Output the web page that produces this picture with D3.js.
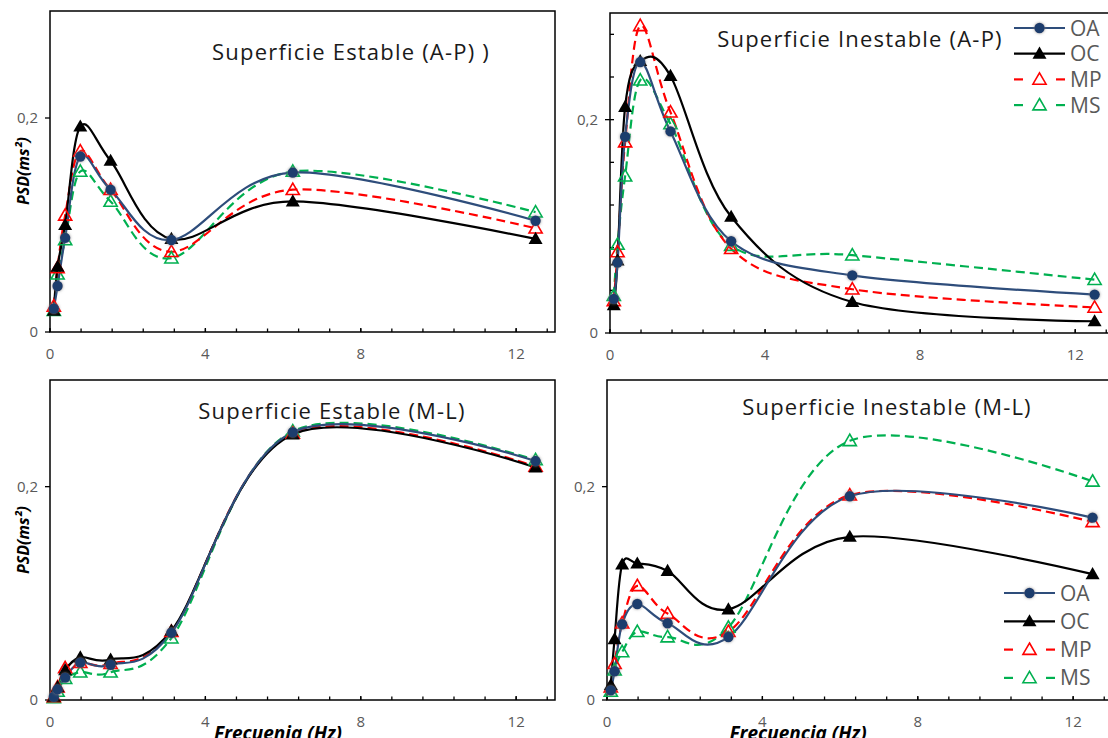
<!DOCTYPE html>
<html>
<head>
<meta charset="utf-8" />
<script src="https://cdn.jsdelivr.net/npm/d3@7"></script>
<style>
  body { margin: 0; background: #fff; }
  svg { display: block; font-family: "Open Sans", "Noto Sans", sans-serif; }
  .tick-label { fill: #595959; font-size: 15px; }
  .title { fill: #1a1a1a; font-size: 22px; letter-spacing: 1.2px; }
  .legend-text { fill: #595959; font-size: 21px; }
  .axis-title { fill: #000; font-size: 16px; font-weight: bold; font-style: italic; }
</style>
</head>
<body>
<svg id="chart" width="1108" height="738"></svg>
<script>
// frequencies (Hz), octave bands
const freq = [0.098, 0.195, 0.39, 0.78, 1.56, 3.125, 6.25, 12.5];
const seriesNames = ["OA", "OC", "MP", "MS"];

// PSD values per panel, rows in seriesNames order
const estableAP = [
  [0.022, 0.043, 0.088, 0.164, 0.133, 0.086, 0.149, 0.104],
  [0.020, 0.061, 0.100, 0.192, 0.160, 0.087, 0.122, 0.087],
  [0.024, 0.060, 0.109, 0.169, 0.133, 0.075, 0.133, 0.097],
  [0.020, 0.054, 0.086, 0.150, 0.122, 0.069, 0.150, 0.112]
];
const inestableAP = [
  [0.032, 0.066, 0.184, 0.254, 0.189, 0.086, 0.054, 0.036],
  [0.026, 0.068, 0.212, 0.255, 0.241, 0.109, 0.029, 0.011],
  [0.030, 0.076, 0.179, 0.288, 0.207, 0.079, 0.041, 0.024],
  [0.035, 0.083, 0.147, 0.237, 0.196, 0.082, 0.073, 0.050]
];
const estableML = [
  [0.003, 0.010, 0.021, 0.035, 0.033, 0.063, 0.251, 0.224],
  [0.003, 0.012, 0.028, 0.040, 0.038, 0.065, 0.249, 0.218],
  [0.003, 0.012, 0.030, 0.035, 0.034, 0.064, 0.250, 0.219],
  [0.002, 0.008, 0.020, 0.026, 0.026, 0.058, 0.252, 0.225]
];
const inestableML = [
  [0.009, 0.027, 0.071, 0.090, 0.072, 0.059, 0.191, 0.171],
  [0.014, 0.057, 0.127, 0.128, 0.121, 0.085, 0.153, 0.118],
  [0.012, 0.034, 0.072, 0.107, 0.081, 0.064, 0.192, 0.167],
  [0.008, 0.028, 0.045, 0.064, 0.059, 0.068, 0.243, 0.205]
];

const titles = ["Superficie Estable (A-P) )", "Superficie Inestable (A-P)",
                "Superficie Estable (M-L)", "Superficie Inestable (M-L)"];
const xTicks = [0, 4, 8, 12];
const yTicks = [0, 0.2];
const yTickLabels = ["0", "0,2"];

const styles = {
  OA: { color: "#2e4d7b", dash: null, marker: "circle", fill: "#1f3d6d" },
  OC: { color: "#000000", dash: null, marker: "triangle", fill: "#000000" },
  MP: { color: "#ff0000", dash: "9,5", marker: "triangle", fill: "#ffffff" },
  MS: { color: "#00b050", dash: "9,5", marker: "triangle", fill: "#ffffff" }
};

const panels = [
  { data: estableAP, title: titles[0], left: 50, top: 11, right: 555, bottom: 332,
    tx: 351, ty: 60, yLabel: 171, yMinor: false },
  { data: inestableAP, title: titles[1], left: 610, top: 13, right: 1114, bottom: 333,
    tx: 860, ty: 47, yMinor: true, legend: { x1: 1014, x2: 1065, y: 28, dy: 25.7 } },
  { data: estableML, title: titles[2], left: 50, top: 380, right: 555, bottom: 700,
    tx: 332, ty: 419, yLabel: 540, xLabel: "Frecuenia (Hz)", xLabelX: 278 },
  { data: inestableML, title: titles[3], left: 607, top: 380, right: 1112, bottom: 700,
    tx: 887, ty: 415, xLabel: "Frecuencia (Hz)", xLabelX: 798,
    legend: { x1: 1004, x2: 1055, y: 593, dy: 28.3 } }
];

const svg = d3.select("#chart");

const defs = svg.append("defs");
const glow = defs.append("filter").attr("id", "glow")
  .attr("x", "-50%").attr("y", "-50%").attr("width", "200%").attr("height", "200%");
glow.append("feGaussianBlur").attr("in", "SourceAlpha").attr("stdDeviation", 1.4).attr("result", "b");
glow.append("feFlood").attr("flood-color", "#808080").attr("flood-opacity", 0.8);
glow.append("feComposite").attr("in2", "b").attr("operator", "in");
const gm = glow.append("feMerge");
gm.append("feMergeNode");
gm.append("feMergeNode").attr("in", "SourceGraphic");

const triSym = d3.symbol().type(d3.symbolTriangle);

function drawMarker(g, name, x, y) {
  const s = styles[name];
  if (s.marker === "circle") {
    g.append("circle").attr("cx", x).attr("cy", y).attr("r", 5.2)
      .attr("fill", s.fill).attr("filter", "url(#glow)");
  } else if (name === "OC") {
    g.append("path").attr("d", triSym.size(85)())
      .attr("transform", `translate(${x},${y + 1})`).attr("fill", s.fill);
  } else {
    g.append("path").attr("d", triSym.size(75)())
      .attr("transform", `translate(${x},${y + 1})`)
      .attr("fill", "none").attr("stroke", s.color).attr("stroke-width", 1.6);
  }
}

panels.forEach(p => {
  const g = svg.append("g");
  const x = d3.scaleLinear().domain([0, 13]).range([p.left, p.right]);
  const y = d3.scaleLinear().domain([0, 0.3]).range([p.bottom, p.top]);

  // plot border
  g.append("rect").attr("x", p.left).attr("y", p.top)
    .attr("width", p.right - p.left).attr("height", p.bottom - p.top)
    .attr("fill", "none").attr("stroke", "#000").attr("stroke-width", 1.5);

  // x axis ticks (inside)
  const xMinor = d3.range(0, 13.01, 0.8);
  g.selectAll(null).data(xMinor).join("line")
    .attr("x1", d => x(d)).attr("x2", d => x(d))
    .attr("y1", p.bottom).attr("y2", p.bottom - 3.5)
    .attr("stroke", "#000").attr("stroke-width", 1.3);
  g.selectAll(null).data(xTicks).join("line")
    .attr("x1", d => x(d)).attr("x2", d => x(d))
    .attr("y1", p.bottom).attr("y2", p.bottom - 4)
    .attr("stroke", "#000").attr("stroke-width", 1.3);
  g.selectAll(null).data(xTicks).join("text").attr("class", "tick-label")
    .attr("x", d => x(d)).attr("y", p.bottom + 27)
    .attr("text-anchor", "middle").text(d => d);

  // y axis ticks
  g.selectAll(null).data(yTicks).join("line")
    .attr("x1", p.left - 5).attr("x2", p.left)
    .attr("y1", d => y(d)).attr("y2", d => y(d))
    .attr("stroke", "#000").attr("stroke-width", 1.3);
  if (p.yMinor) {
    g.selectAll(null).data(d3.range(0.04, 0.3, 0.04)).join("line")
      .attr("x1", p.left).attr("x2", p.left + 4)
      .attr("y1", d => y(d)).attr("y2", d => y(d))
      .attr("stroke", "#000").attr("stroke-width", 1.3);
  }
  g.selectAll(null).data(yTicks).join("text").attr("class", "tick-label")
    .attr("x", p.left - 12).attr("y", d => y(d) + 5)
    .attr("text-anchor", "end").text((d, i) => yTickLabels[i]);

  g.append("text").attr("class", "title")
    .attr("x", p.tx).attr("y", p.ty).attr("text-anchor", "middle").text(p.title);

  if (p.yLabel) {
    g.append("text").attr("class", "axis-title")
      .attr("transform", `translate(29,${p.yLabel}) rotate(-90)`)
      .attr("text-anchor", "middle").text("PSD(ms²)");
  }
  if (p.xLabel) {
    // the source image crops these labels at its bottom edge
    g.append("text").attr("class", "axis-title").style("font-size", "19px")
      .attr("x", p.xLabelX).attr("y", 740).attr("text-anchor", "middle").text(p.xLabel);
  }

  const line = d3.line().x((d, i) => x(freq[i])).y(d => y(d))
    .curve(d3.curveCatmullRom.alpha(0));

  // draw MS, MP, OC, OA so OA ends on top like the source
  const order = [3, 2, 1, 0];
  order.forEach(k => {
    const name = seriesNames[k], s = styles[name];
    g.append("path").attr("d", line(p.data[k]))
      .attr("fill", "none").attr("stroke", s.color).attr("stroke-width", 2.2)
      .attr("stroke-dasharray", s.dash);
  });
  order.forEach(k => {
    const name = seriesNames[k];
    p.data[k].forEach((v, i) => drawMarker(g, name, x(freq[i]), y(v)));
  });

  if (p.legend) {
    const L = p.legend;
    seriesNames.forEach((name, i) => {
      const s = styles[name], ly = L.y + i * L.dy;
      if (s.dash) {
        g.append("line").attr("x1", L.x1).attr("x2", L.x1 + 9).attr("y1", ly).attr("y2", ly)
          .attr("stroke", s.color).attr("stroke-width", 2.2);
        g.append("line").attr("x1", L.x2 - 9).attr("x2", L.x2).attr("y1", ly).attr("y2", ly)
          .attr("stroke", s.color).attr("stroke-width", 2.2);
      } else {
        g.append("line").attr("x1", L.x1).attr("x2", L.x2).attr("y1", ly).attr("y2", ly)
          .attr("stroke", s.color).attr("stroke-width", 2.2);
      }
      drawMarker(g, name, (L.x1 + L.x2) / 2, ly);
      g.append("text").attr("class", "legend-text")
        .attr("x", L.x2 + 5).attr("y", ly + 7.5).text(name);
    });
  }
});
</script>
</body>
</html>
